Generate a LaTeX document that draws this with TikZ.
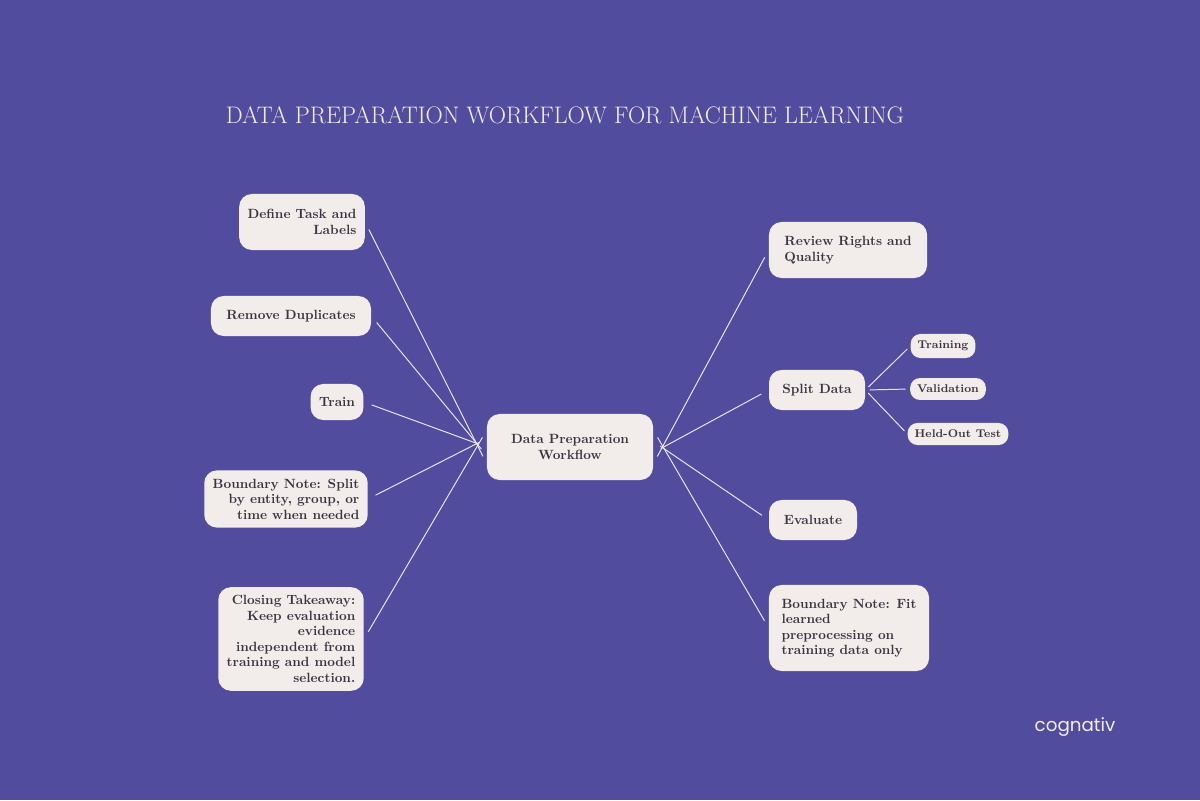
\documentclass[tikz,border=0pt]{standalone}
\usepackage{fontspec}
\newfontfamily\logofont{Poppins}
\definecolor{bgpurple}{HTML}{524C9E}
\definecolor{boxfill}{HTML}{F2ECEB}
\definecolor{boxtext}{HTML}{3B3441}
\definecolor{linecol}{HTML}{E8E4EE}
\tikzset{
	stage/.style={draw=none, fill=boxfill, rounded corners=9pt, text=boxtext,
		font=\fontsize{9.5}{11}\selectfont\bfseries, inner sep=6pt},
	leftstage/.style={stage, align=right},
	rightstage/.style={stage, align=left},
	substage/.style={stage, rounded corners=7pt, font=\fontsize{8}{9}\selectfont\bfseries, inner sep=5pt},
	link/.style={draw=linecol, line width=0.7pt, shorten >=6pt, shorten <=6pt},
}
\begin{document}
\begin{tikzpicture}[x=0.025cm, y=-0.025cm]

\fill[bgpurple] (0,0) rectangle (1200,800);
\useasboundingbox (0,0) rectangle (1200,800);

\node [text=boxfill, font=\fontsize{17}{20}\selectfont]  (title)at (565,115) {DATA PREPARATION WORKFLOW FOR MACHINE LEARNING};

%Centre
\node [stage, align=center, minimum width=4.15cm, minimum height=1.65cm]  (hub)at (570,447) {Data Preparation\\Workflow};

%Left branch
\node [leftstage, minimum height=1.4cm]  (task)at (302,222) {Define Task and\\Labels};
\node [leftstage, minimum width=4cm, minimum height=1cm]  (dups)at (291,316) {Remove Duplicates};
\node [leftstage, minimum height=0.9cm]  (train)at (337,402) {Train};
\node [leftstage]  (noteL)at (286,499) {Boundary Note: Split\\by entity, group, or\\time when needed};
\node [leftstage]  (takeaway)at (291,639) {Closing Takeaway:\\Keep evaluation\\evidence\\independent from\\training and model\\selection.};

%Right branch
\node [rightstage, minimum width=3.95cm, minimum height=1.4cm]  (review)at (848,250) {Review Rights and\\Quality};
\node [rightstage, minimum width=2.4cm, minimum height=1cm]  (split)at (817,390) {Split Data};
\node [rightstage, minimum width=2.2cm, minimum height=1cm]  (eval)at (813,520) {Evaluate};
\node [rightstage, minimum width=4cm, minimum height=2.15cm]  (noteR)at (849,628) {Boundary Note: Fit\\learned\\preprocessing on\\training data only};

%Split subsets
\node [substage]  (trn)at (943,346) {Training};
\node [substage]  (val)at (948,389) {Validation};
\node [substage]  (test)at (958,434) {Held-Out Test};

\foreach \n/\y in {task/-12,dups/-6,train/0,noteL/6,takeaway/12}
	\draw[link] ([yshift=\y pt]hub.west) -- (\n.east);
\foreach \n/\y in {review/-12,split/-4,eval/4,noteR/12}
	\draw[link] ([yshift=\y pt]hub.east) -- (\n.west);
\foreach \n in {trn,val,test}
	\draw[link, shorten >=3pt, shorten <=3pt] (split.east) -- (\n.west);

\node [text=boxfill, font=\logofont\fontsize{13}{15}\selectfont]  (logo)at (1075,727) {cognativ};

\end{tikzpicture}
\end{document}
